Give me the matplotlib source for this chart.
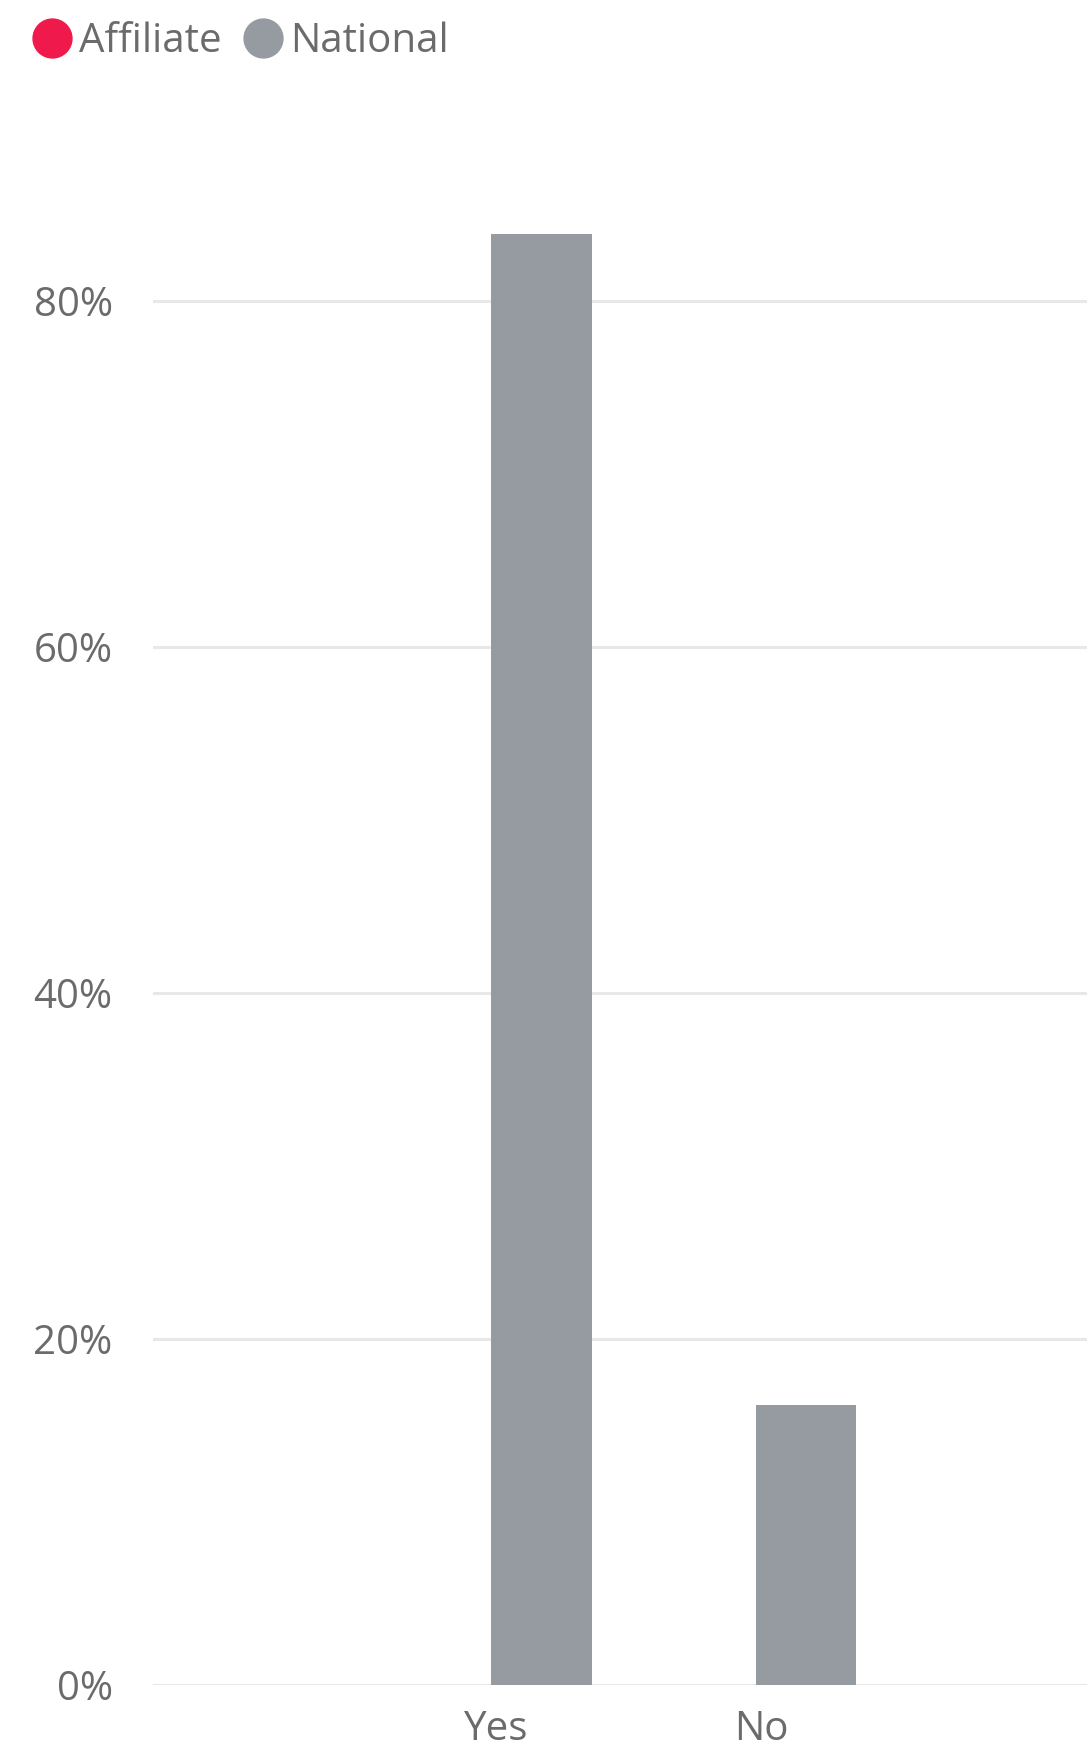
import matplotlib.pyplot as plt
from matplotlib.lines import Line2D
from matplotlib.ticker import FuncFormatter
import numpy as np

categories = ["Yes", "No"]
series_names = ["Affiliate", "National"]
affiliate = [0.0, 0.0]
national = [83.9, 16.2]
y_ticks = [0, 20, 40, 60, 80]

colors = {"Affiliate": "#f0194b", "National": "#959ba1"}
text_color = "#6b6b6b"

plt.rcParams['font.family'] = ['Open Sans', 'DejaVu Sans']

fig = plt.figure(figsize=(10.87, 17.53), dpi=100)
ax = fig.add_axes([153 / 1087, 1 - 1685 / 1753, 1 - 153 / 1087, (1685 - 180) / 1753])

x = np.arange(len(categories))
width = 0.38
ax.bar(x - width / 2, affiliate, width, color=colors["Affiliate"], zorder=3)
ax.bar(x + width / 2, national, width, color=colors["National"], zorder=3)

ax.set_xlim(-1.275, 2.25)
ax.set_ylim(0, 87)
ax.set_yticks(y_ticks)
ax.yaxis.set_major_formatter(FuncFormatter(lambda v, p: "%d%%" % v))
ax.set_xticks(x + 0.02)
ax.set_xticklabels(categories)
ax.grid(axis="y", color="#e8e8e8", linewidth=2.2, zorder=0)
ax.tick_params(axis="both", length=0, labelsize=29, labelcolor=text_color)
ax.tick_params(axis="y", pad=29)
ax.tick_params(axis="x", pad=18)
for s in ax.spines.values():
    s.set_visible(False)

handles = [Line2D([], [], linestyle="none", marker="o", markersize=28,
                  markerfacecolor=colors[n], markeredgecolor=colors[n]) for n in series_names]
leg = fig.legend(handles, series_names, loc="upper left", bbox_to_anchor=(0.0, 1.004),
                 ncol=2, frameon=False, fontsize=29, handletextpad=0.05,
                 columnspacing=0.45, handlelength=1.2, borderaxespad=0.3)
for t in leg.get_texts():
    t.set_color(text_color)

fig.savefig("out.png", dpi=100, facecolor="white")
